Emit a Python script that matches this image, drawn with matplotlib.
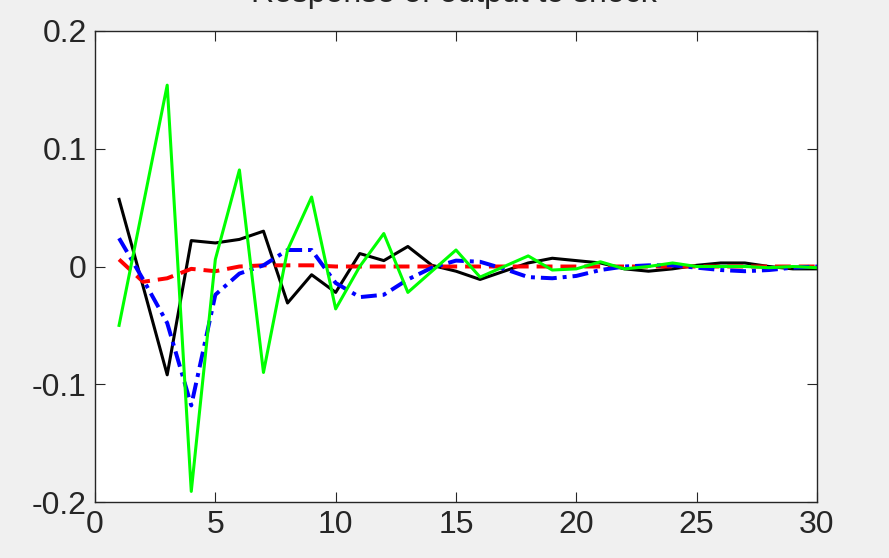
import numpy as np
import matplotlib
matplotlib.use("Agg")
import matplotlib.pyplot as plt

plt.rcParams['font.family'] = ['Liberation Sans', 'DejaVu Sans']

horizon = np.arange(1, 31)

black = [0.057, -0.017, -0.092, 0.022, 0.020, 0.023, 0.030, -0.031, -0.007, -0.022,
         0.011, 0.005, 0.017, 0.001, -0.004, -0.011, -0.004, 0.003, 0.007, 0.005,
         0.003, -0.002, -0.004, -0.002, 0.001, 0.003, 0.003, 0.000, -0.002, -0.002]
green = [-0.050, 0.052, 0.154, -0.191, 0.006, 0.082, -0.090, 0.014, 0.059, -0.036,
         0.000, 0.028, -0.022, -0.004, 0.014, -0.009, 0.000, 0.009, -0.003, -0.002,
         0.004, -0.002, 0.000, 0.003, 0.000, 0.000, 0.000, -0.001, 0.000, -0.001]
red = [0.006, -0.013, -0.010, -0.002, -0.004, 0.000, 0.001, 0.001, 0.001, 0.000,
       0.000, 0.000, 0.000, 0.000, 0.000, 0.000, 0.000, 0.000, 0.000, 0.000,
       0.000, 0.000, 0.000, 0.000, 0.000, 0.000, 0.000, 0.000, 0.000, 0.000]
blue = [0.024, -0.011, -0.048, -0.118, -0.024, -0.006, 0.001, 0.014, 0.014, -0.014,
        -0.026, -0.024, -0.011, -0.001, 0.005, 0.004, -0.002, -0.009, -0.010, -0.008,
        -0.003, 0.000, 0.001, 0.001, -0.001, -0.003, -0.004, -0.003, -0.001, 0.000]

fig = plt.figure(figsize=(8.89, 5.58), dpi=100, facecolor="#f0f0f0")
ax = fig.add_axes([95/889, 1 - 502/558, 722/889, 471/558])
ax.set_facecolor("white")

lw = 2.2
ax.plot(horizon, black, color="black", lw=lw)
ax.plot(horizon, red, color="red", lw=lw * 1.3, ls=(0, (4, 2)))
ax.plot(horizon, blue, color="blue", lw=lw * 1.3, ls=(0, (4, 1.5, 1, 1.5)))
ax.plot(horizon, green, color="#00ff00", lw=lw)

ax.set_xlim(0, 30)
ax.set_ylim(-0.2, 0.2)
ax.set_xticks(range(0, 31, 5))
ax.set_yticks([-0.2, -0.1, 0, 0.1, 0.2])
ax.set_yticklabels(["-0.2", "-0.1", "0", "0.1", "0.2"])
ax.tick_params(direction="in", length=7, width=0.8, colors="#262626",
               labelsize=23, top=True, right=True, pad=6)
for s in ax.spines.values():
    s.set_color("#262626")
    s.set_linewidth(1.0)

# title is mostly cut off at the top edge in the reference
fig.text(0.51, 1 - 2/558, "Response of output to shock", ha="center",
         va="baseline", fontsize=23, color="#262626")

fig.savefig("out.png", dpi=100, facecolor=fig.get_facecolor())
